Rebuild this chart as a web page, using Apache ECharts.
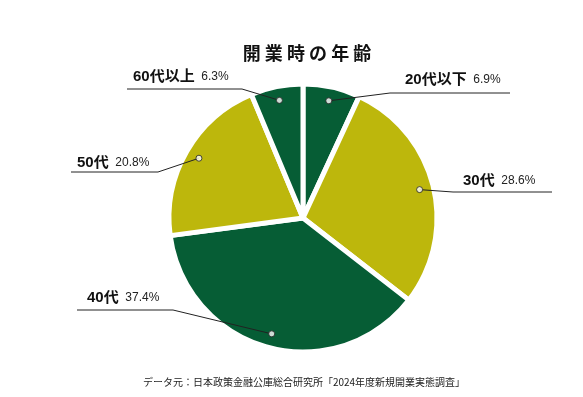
<!DOCTYPE html>
<html>
<head>
<meta charset="utf-8">
<script src="https://cdn.jsdelivr.net/npm/echarts@6/dist/echarts.min.js"></script>
<style>
  html, body { margin: 0; padding: 0; background: #fff; }
  #main { width: 583px; height: 397px; }
</style>
</head>
<body>
<div id="main"></div>
<script>
var ageGroups = ["20代以下", "30代", "40代", "50代", "60代以上"];
var shares = [6.9, 28.6, 37.4, 20.8, 6.3];

var sliceColors = ["#065d35", "#bdb70c", "#065d35", "#bdb70c", "#065d35"];

// label placement: [text left, text middle y, bend x, line y, line end x]
var labelSpots = [
  [405, 80, 390, 93, 510],
  [463, 181, 453, 192, 552],
  [87, 298, 173, 310, 77],
  [77, 163, 158, 172, 71],
  [133, 77, 242, 89, 127]
];

var pieCenter = [303, 218];

var pieData = ageGroups.map(function (name, i) {
  return { name: name, value: shares[i], itemStyle: { color: sliceColors[i] } };
});

// dot at the middle of each slice
var dotData = [];
var cum = 0;
shares.forEach(function (v) {
  dotData.push([1, cum + v / 2]);
  cum += v;
});

var myChart = echarts.init(document.getElementById("main"));

var option = {
  animation: false,
  title: [
    {
      text: "開 業 時 の 年 齢",
      left: 302,
      top: 39,
      textAlign: "center",
      textStyle: {
        fontFamily: "Noto Sans CJK JP",
        fontSize: 18,
        fontWeight: "bold",
        color: "#111"
      }
    },
    {
      text: "データ元：日本政策金融公庫総合研究所「2024年度新規開業実態調査」",
      left: 299,
      top: 372,
      textAlign: "center",
      textStyle: {
        fontFamily: "Noto Sans CJK JP",
        fontSize: 10,
        fontWeight: "normal",
        color: "#222"
      }
    }
  ],
  polar: { center: pieCenter, radius: 120 },
  angleAxis: { type: "value", min: 0, max: 100, startAngle: 90, clockwise: true, show: false },
  radiusAxis: { type: "value", min: 0, max: 1, show: false },
  series: [
    {
      type: "pie",
      center: pieCenter,
      radius: 134,
      startAngle: 90,
      silent: true,
      z: 1,
      itemStyle: { borderColor: "#fff", borderWidth: 5 },
      label: { show: false },
      labelLine: { show: false },
      data: pieData
    },
    {
      type: "pie",
      center: pieCenter,
      radius: 120,
      startAngle: 90,
      silent: true,
      z: 3,
      avoidLabelOverlap: false,
      itemStyle: { color: "rgba(0,0,0,0)" },
      label: {
        show: true,
        formatter: function (p) {
          return "{n|" + p.name + "}  {p|" + p.value.toFixed(1) + "%}";
        },
        rich: {
          n: {
            fontFamily: "Liberation Sans, Noto Sans CJK JP",
            fontSize: 15,
            fontWeight: "bold",
            color: "#111"
          },
          p: {
            fontFamily: "Liberation Sans, Noto Sans CJK JP",
            fontSize: 12,
            color: "#222"
          }
        }
      },
      labelLine: {
        show: true,
        length: 10,
        length2: 10,
        lineStyle: { color: "#222", width: 1 }
      },
      labelLayout: function (params) {
        var s = labelSpots[params.dataIndex];
        var pts = params.labelLinePoints;
        var start = pts ? pts[0] : [s[2], s[3]];
        return {
          x: s[0],
          y: s[1],
          align: "left",
          verticalAlign: "middle",
          labelLinePoints: [start, [s[2], s[3]], [s[4], s[3]]]
        };
      },
      data: pieData.map(function (d) {
        return { name: d.name, value: d.value };
      })
    },
    {
      type: "scatter",
      coordinateSystem: "polar",
      silent: true,
      z: 5,
      symbol: "circle",
      symbolSize: 6,
      itemStyle: { color: "#fff", borderColor: "#222", borderWidth: 1 },
      data: dotData
    }
  ]
};

myChart.setOption(option);
</script>
</body>
</html>
